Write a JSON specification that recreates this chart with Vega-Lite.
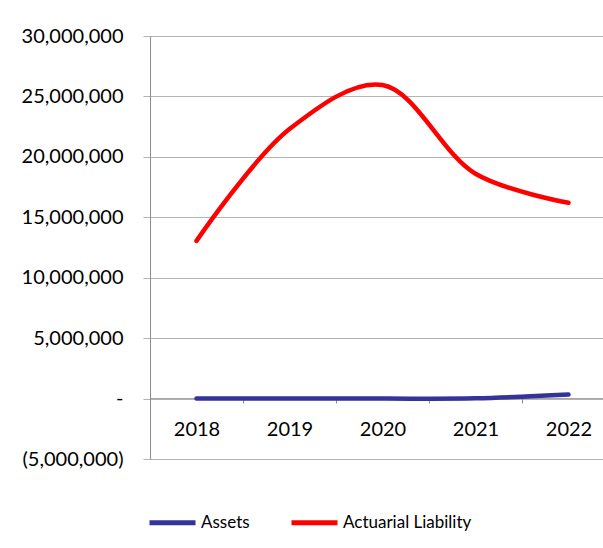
{
  "$schema": "https://vega.github.io/schema/vega-lite/v6.json",
  "width": 465,
  "height": 423,
  "autosize": {"type": "none"},
  "padding": {"left": 150, "top": 36, "right": 0, "bottom": 89},
  "background": "white",
  "config": {
    "view": {"stroke": null},
    "font": "Lato"
  },
  "data": {
    "values": [
      {"year": "2018", "series": "Assets", "value": 0},
      {"year": "2019", "series": "Assets", "value": 0},
      {"year": "2020", "series": "Assets", "value": 0},
      {"year": "2021", "series": "Assets", "value": 20000},
      {"year": "2022", "series": "Assets", "value": 330000},
      {"year": "2018", "series": "Actuarial Liability", "value": 13050000},
      {"year": "2019", "series": "Actuarial Liability", "value": 22300000},
      {"year": "2020", "series": "Actuarial Liability", "value": 25950000},
      {"year": "2021", "series": "Actuarial Liability", "value": 18600000},
      {"year": "2022", "series": "Actuarial Liability", "value": 16200000}
    ]
  },
  "mark": {"type": "line", "interpolate": "catmull-rom", "strokeWidth": 4.5, "strokeCap": "round"},
  "encoding": {
    "x": {
      "field": "year",
      "type": "ordinal",
      "scale": {"type": "band", "paddingInner": 0, "paddingOuter": 0},
      "axis": {
        "title": null,
        "labelAngle": 0,
        "offset": -61,
        "tickBand": "extent",
        "tickSize": 5,
        "tickColor": "#8c8c8c",
        "domainColor": "#a6a6a6",
        "labelFont": "Lato",
        "labelFontSize": 20,
        "labelColor": "#000000",
        "labelPadding": 16,
        "grid": false
      }
    },
    "y": {
      "field": "value",
      "type": "quantitative",
      "scale": {"domain": [-5000000, 30000000], "nice": false, "zero": false},
      "axis": {
        "title": null,
        "values": [-5000000, 0, 5000000, 10000000, 15000000, 20000000, 25000000, 30000000],
        "labelExpr": "datum.value == 0 ? '-' : (datum.value < 0 ? '(' + format(-datum.value, ',') + ')' : format(datum.value, ','))",
        "labelFont": "Lato",
        "labelFontSize": 20,
        "labelColor": "#000000",
        "labelPadding": 20,
        "tickSize": 7,
        "tickColor": "#b3b3b3",
        "domainColor": "#8c8c8c",
        "gridColor": "#b3b3b3",
        "grid": true
      }
    },
    "color": {
      "field": "series",
      "type": "nominal",
      "scale": {"domain": ["Assets", "Actuarial Liability"], "range": ["#33339a", "#ff0000"]},
      "legend": {
        "title": null,
        "orient": "none",
        "legendX": -3,
        "legendY": 461,
        "direction": "horizontal",
        "symbolType": "stroke",
        "symbolSize": 2116,
        "symbolStrokeWidth": 5,
        "labelFont": "Lato",
        "labelFontSize": 17,
        "labelColor": "#000000",
        "labelOffset": 3,
        "columnPadding": 31
      }
    }
  }
}
